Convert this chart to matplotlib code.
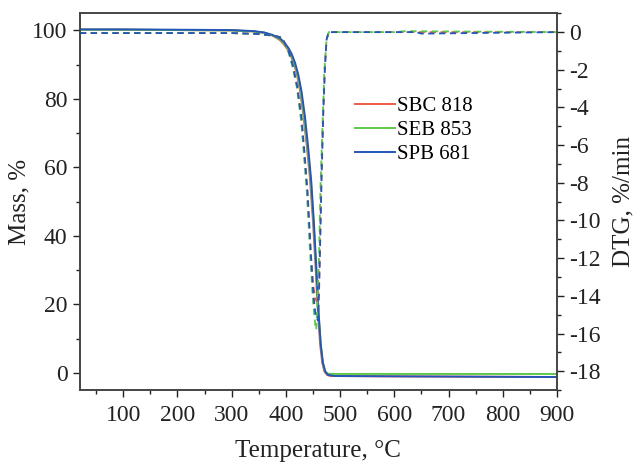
import matplotlib
matplotlib.use('Agg')
import matplotlib.pyplot as plt
from matplotlib.ticker import MultipleLocator

plt.rcParams['font.family'] = ['Liberation Serif', 'DejaVu Serif']

# sample names
labels = ['SBC 818', 'SEB 853', 'SPB 681']
colors = ['#f15a48', '#5cc84a', '#2356b8']

# mass curves (temperature, %)
t_sbc = [20, 100, 200, 300, 340, 360, 375, 388, 396, 402, 408, 414, 420, 426, 432, 438, 444, 450, 455, 459, 463, 467, 471, 476, 482, 600, 900]
m_sbc = [100.2, 100.2, 100.1, 100.0, 99.7, 99.3, 98.5, 97.3, 96.0, 94.7, 93.0, 90.6, 87.4, 82.5, 75.5, 67.0, 57.5, 44.0, 30.0, 18.0, 8.5, 3.0, 0.4, -0.6, -0.9, -1.0, -1.2]
t_seb = [20, 100, 200, 300, 340, 360, 375, 389, 397, 403, 409, 415, 421, 427, 433, 439, 445, 451, 456, 460, 464, 468, 472, 477, 482, 600, 900]
m_seb = [100.2, 100.2, 100.1, 100.0, 99.7, 99.3, 98.6, 97.4, 96.1, 94.8, 93.1, 90.7, 87.5, 82.5, 75.5, 67.0, 57.5, 44.0, 30.0, 18.0, 8.5, 3.0, 0.5, -0.2, -0.3, -0.3, -0.3]
t_spb = [20, 100, 200, 300, 340, 360, 375, 390, 398, 405, 411, 417, 423, 429, 435, 441, 447, 452, 456.5, 460.5, 464.5, 468.5, 473, 478, 490, 600, 900]
m_spb = [100.3, 100.3, 100.2, 100.1, 99.8, 99.4, 98.7, 97.6, 96.3, 94.8, 93.0, 90.5, 87.0, 82.0, 75.0, 66.0, 55.5, 43.0, 29.5, 17.0, 8.0, 2.8, 0.3, -0.6, -0.9, -1.0, -1.2]

# DTG curves (temperature, %/min)
t_dsbc = [20, 300, 350, 380, 393, 405, 412, 420, 428, 433, 439, 445, 450, 455, 459, 461, 463, 466, 469, 472, 475, 479, 520, 900]
d_sbc = [-0.05, -0.05, -0.1, -0.2, -0.3, -1.0, -1.7, -2.8, -4.5, -6.2, -8.4, -11.5, -13.4, -14.2, -14.4, -13.6, -11.0, -7.0, -4.0, -1.8, -0.4, 0.0, 0.0, 0.0]
t_dseb = [20, 300, 350, 380, 393, 405, 412, 420, 428, 433, 439, 445, 450, 454, 456, 458, 461, 464, 468, 471, 475, 479, 520, 600, 620, 900]
d_seb = [-0.05, -0.05, -0.1, -0.2, -0.3, -1.1, -1.8, -2.9, -4.7, -6.4, -8.6, -11.9, -14.3, -15.5, -15.8, -14.5, -12.0, -8.0, -4.6, -2.0, -0.4, 0.0, 0.0, 0.0, 0.05, 0.0]
t_dspb = [20, 300, 350, 380, 393, 405, 413, 421, 429, 434, 440, 446, 451, 455, 459, 461, 463, 466, 469, 472, 475, 479, 520, 640, 650, 900]
d_spb = [-0.05, -0.05, -0.1, -0.2, -0.3, -1.0, -1.8, -2.9, -4.6, -6.3, -8.5, -11.7, -14.0, -15.1, -15.3, -14.0, -11.5, -7.5, -4.3, -1.9, -0.4, 0.0, 0.0, 0.0, -0.08, 0.0]

fig = plt.figure(figsize=(6.34, 4.66), dpi=100)
ax = fig.add_axes([0.126, 0.163, 0.7525, 0.8085])
ax2 = ax.twinx()

for t, m, c, lab in zip([t_sbc, t_seb, t_spb], [m_sbc, m_seb, m_spb], colors, labels):
    ax.plot(t, m, color=c, lw=1.4, label=lab)
for t, d, c in zip([t_dsbc, t_dseb, t_dspb], [d_sbc, d_seb, d_spb], colors):
    ax2.plot(t, d, color=c, lw=1.3, ls=(0, (3.5, 2.5)))

ax.set_xlim(20, 900)
ax.set_ylim(-5, 105)
ax2.set_ylim(-19, 1)

ax.xaxis.set_major_locator(MultipleLocator(100))
ax.xaxis.set_minor_locator(MultipleLocator(50))
ax.yaxis.set_major_locator(MultipleLocator(20))
ax.yaxis.set_minor_locator(MultipleLocator(10))
ax2.yaxis.set_major_locator(MultipleLocator(2))
ax2.yaxis.set_minor_locator(MultipleLocator(1))
ax.set_xticks([100, 200, 300, 400, 500, 600, 700, 800, 900])

for a in (ax, ax2):
    a.tick_params(which='major', direction='out', length=5, width=1, labelsize=17, pad=4, colors='#222222')
    a.tick_params(which='minor', direction='out', length=3, width=1, colors='#222222')
    for s in a.spines.values():
        s.set_linewidth(1.2)
        s.set_color('#444444')
ax.tick_params(axis='y', which='both', right=False)
ax.tick_params(axis='x', which='both', top=False)
ax.tick_params(axis='x', which='major', pad=6)

ax2.set_yticks(list(range(-18, 1, 2)))
ax2.set_yticklabels([str(v) for v in range(-18, 1, 2)])

ax.set_xlabel('Temperature, °C', fontsize=18, labelpad=10, color='#222222')
ax.set_ylabel('Mass, %', fontsize=18, labelpad=1, color='#222222')
ax2.set_ylabel('DTG, %/min', fontsize=18, labelpad=8, color='#222222')

ax.legend(loc='upper left', bbox_to_anchor=(0.5765, 0.779), frameon=False, fontsize=15,
          handlelength=1.9, handletextpad=0.1, labelspacing=0.22, borderpad=0, borderaxespad=0)

fig.savefig('out.png', dpi=100)
